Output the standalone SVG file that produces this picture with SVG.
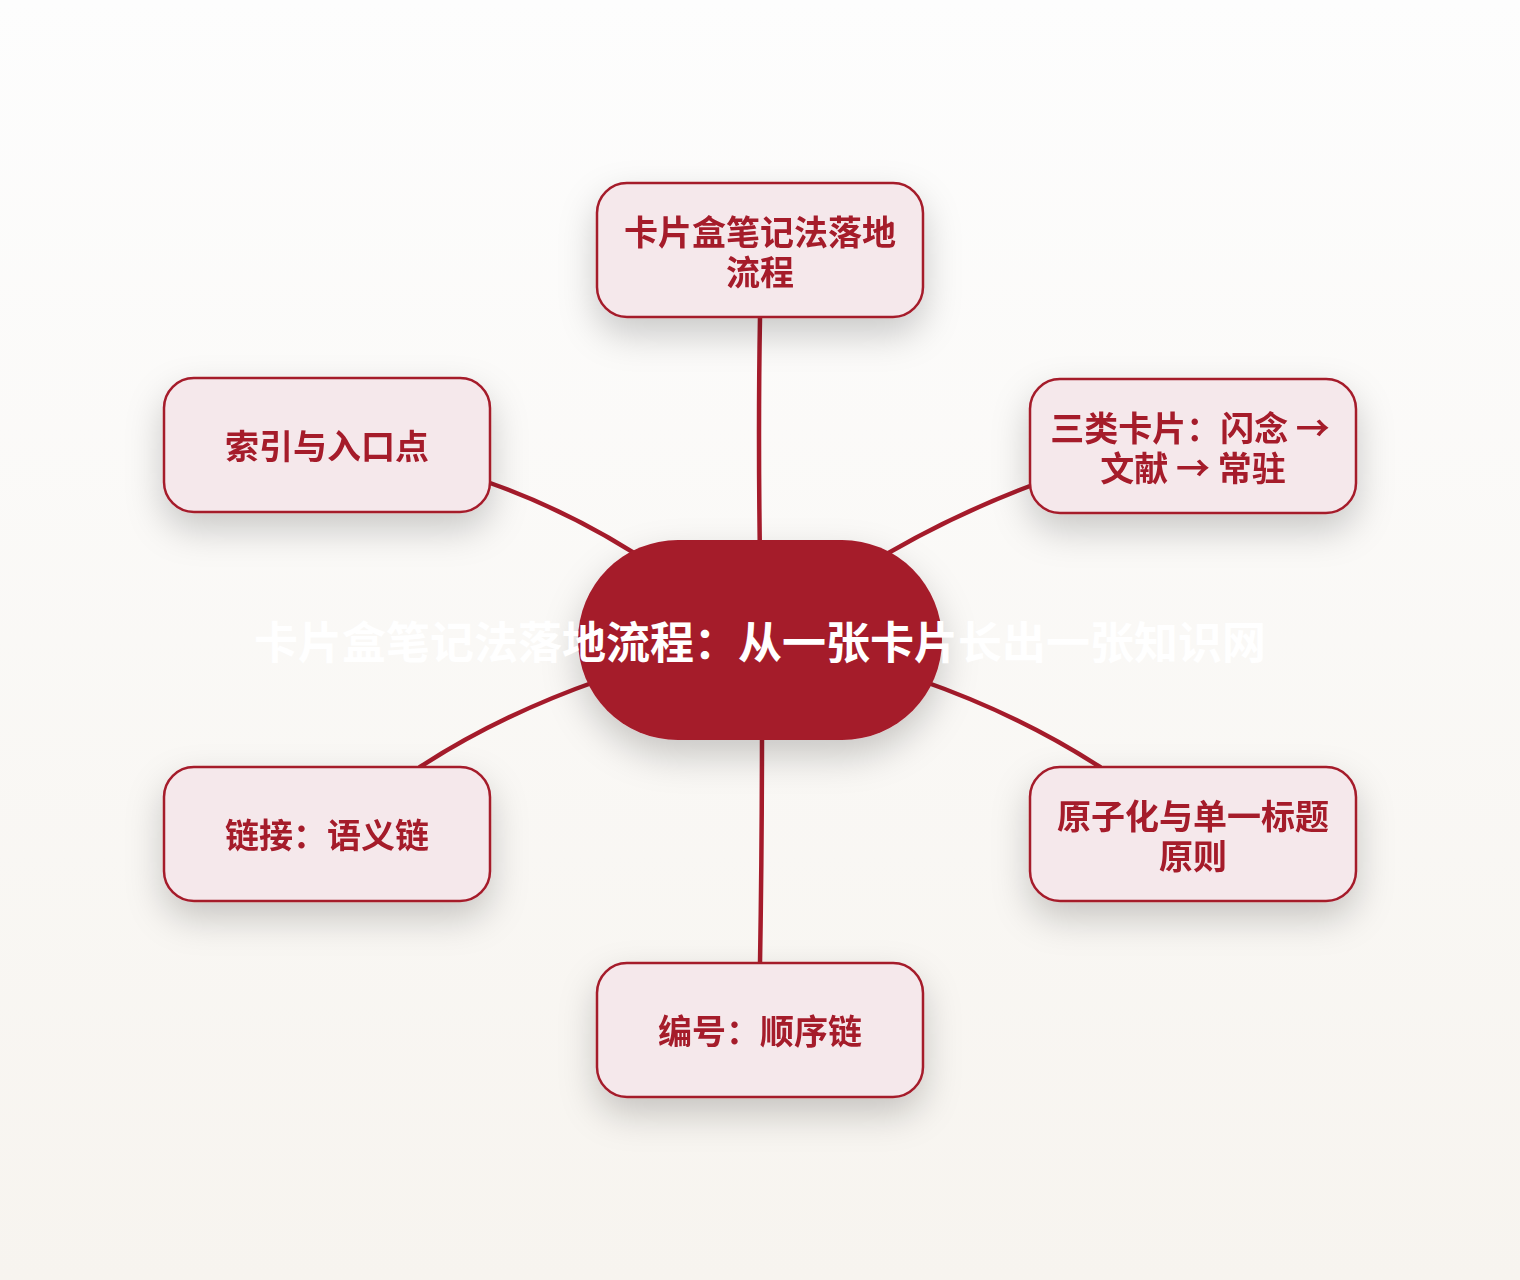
<svg xmlns="http://www.w3.org/2000/svg" width="1520" height="1280" viewBox="0 0 1520 1280">
<defs>
<linearGradient id="bg" x1="0" y1="0" x2="0" y2="1">
<stop offset="0" stop-color="#fdfdfd"/>
<stop offset="1" stop-color="#f7f4ef"/>
</linearGradient>
<filter id="sh" x="-40%" y="-40%" width="180%" height="200%">
<feDropShadow dx="0" dy="16" stdDeviation="18" flood-color="#000" flood-opacity="0.2"/>
</filter>
<style>
.box{fill:#f5e8eb;stroke:#a51b2b;stroke-width:2.5}
.lbl{fill:#a51b2b;font-family:"Noto Sans CJK SC","Noto Sans",sans-serif;font-weight:700;font-size:34px;text-anchor:middle}
.edge{fill:none;stroke:#a51b2b;stroke-width:4.5;stroke-linecap:round}
.hub{fill:#a51b2b}
.hubt{fill:#ffffff;font-family:"Noto Sans CJK SC","Noto Sans",sans-serif;font-weight:700;font-size:44px;text-anchor:middle}
</style>
</defs>
<rect width="1520" height="1280" fill="url(#bg)"/>
<g id="connectors">
<path class="edge" d="M760,317 Q758,430 760,560"/>
<path class="edge" d="M490,483 Q580,515 660,570"/>
<path class="edge" d="M1030,486 Q940,520 860,570"/>
<path class="edge" d="M420,767 Q500,715 600,680"/>
<path class="edge" d="M1100,767 Q1020,715 920,680"/>
<path class="edge" d="M760,963 Q762,850 762,720"/>
</g>
<g id="n-top" filter="url(#sh)">
<rect class="box" x="597" y="183" width="326" height="134" rx="30"/>
<text class="lbl" x="760" y="245">卡片盒笔记法落地</text>
<text class="lbl" x="760" y="285">流程</text>
</g>
<g id="n-index" filter="url(#sh)">
<rect class="box" x="164" y="378" width="326" height="134" rx="30"/>
<text class="lbl" x="327" y="459">索引与入口点</text>
</g>
<g id="n-types" filter="url(#sh)">
<rect class="box" x="1030" y="379" width="326" height="134" rx="30"/>
<text class="lbl" x="1190" y="441">三类卡片：闪念 →</text>
<text class="lbl" x="1193" y="481">文献 → 常驻</text>
</g>
<g id="n-link" filter="url(#sh)">
<rect class="box" x="164" y="767" width="326" height="134" rx="30"/>
<text class="lbl" x="327" y="848">链接：语义链</text>
</g>
<g id="n-atomic" filter="url(#sh)">
<rect class="box" x="1030" y="767" width="326" height="134" rx="30"/>
<text class="lbl" x="1193" y="829">原子化与单一标题</text>
<text class="lbl" x="1193" y="869">原则</text>
</g>
<g id="n-number" filter="url(#sh)">
<rect class="box" x="597" y="963" width="326" height="134" rx="30"/>
<text class="lbl" x="760" y="1044">编号：顺序链</text>
</g>
<g id="n-hub">
<rect class="hub" x="578" y="540" width="364" height="200" rx="100" filter="url(#sh)"/>
<text class="hubt" x="760" y="659">卡片盒笔记法落地流程：从一张卡片长出一张知识网</text>
</g>
</svg>
